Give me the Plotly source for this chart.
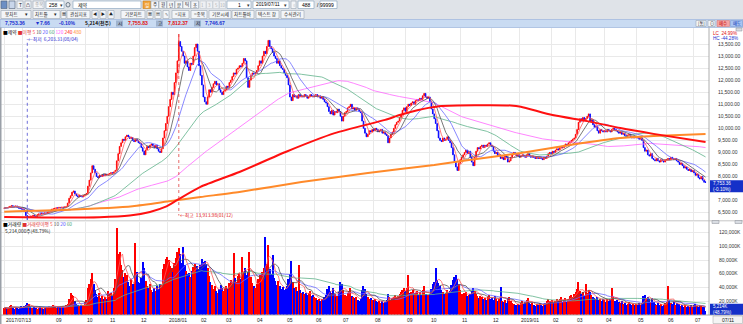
import numpy as np
import pandas as pd
import plotly.graph_objects as go

W, H = 743, 324
KR = "Noto Sans CJK KR"
NUM = "Liberation Sans"

# ---------------- data ----------------
holidays = ["2017-08-15", "2017-10-02", "2017-10-03", "2017-10-04", "2017-10-05", "2017-10-06",
            "2017-10-09", "2017-12-25", "2017-12-29", "2018-01-01", "2018-02-15", "2018-02-16",
            "2018-03-01", "2018-05-01", "2018-05-07", "2018-05-22", "2018-06-06", "2018-06-13",
            "2018-08-15", "2018-09-24", "2018-09-25", "2018-09-26", "2018-10-03", "2018-10-09",
            "2018-12-25", "2018-12-31", "2019-01-01", "2019-02-04", "2019-02-05", "2019-02-06",
            "2019-03-01", "2019-05-01", "2019-05-06", "2019-06-06"]

closes = [
    # 2017-07 (from 13th)
    6690, 6710, 6700, 6730, 6760, 6790, 6770, 6750, 6780, 6720, 6690, 6670, 6650,
    # 2017-08
    6640, 6560, 6380, 6300, 6330, 6310, 6350, 6390, 6360, 6340, 6420, 6450, 6440, 6470, 6460,
    6490, 6480, 6510, 6540, 6600, 6640, 6660,
    # 2017-09
    6680, 6700, 6690, 6720, 6700, 6730, 6710, 6740, 6760, 6900, 7100, 7200, 7350, 7400, 7280,
    7200, 7160, 7220, 7180, 7150, 7210,
    # 2017-10
    7250, 7300, 7600, 7850, 8150, 8450, 8300, 8150, 8000, 7950, 8050, 8000, 8080, 8030, 8100, 8060,
    # 2017-11
    8100, 8120, 8160, 8140, 8190, 8260, 8650, 8950, 9250, 9400, 9550, 9500, 9650, 9720, 9650,
    9580, 9620, 9500, 9450, 9550, 9480, 9400,
    # 2017-12
    9380, 9200, 9050, 8900, 9100, 9250, 9200, 9300, 9350, 9280, 9200, 9300, 9150, 9050, 9000,
    9150, 9600, 9900, 10200,
    # 2018-01
    10500, 10900, 11200, 11500, 11400, 11900, 12300, 12800, 13600, 13400, 13200, 13000, 12700,
    12800, 12550, 12400, 12700, 12650, 13000, 13350, 13500, 13200,
    # 2018-02
    12600, 12200, 11800, 11300, 11100, 11000, 11300, 11600, 11500, 11700, 11850, 11950, 11800,
    11850, 11600, 11500, 11400, 11550,
    # 2018-03
    11600, 11750, 11700, 11900, 12000, 12150, 12300, 12250, 12450, 12500, 12600, 12550, 12700,
    12900, 12800, 12100, 11700, 12000, 12200, 12300, 12250,
    # 2018-04
    12300, 12400, 12600, 12800, 12700, 13000, 13200, 13100, 13400, 13650, 13400, 13300, 13150,
    13000, 12900, 12700, 12800, 12600, 12500, 12450, 12300,
    # 2018-05
    12200, 12100, 11800, 11300, 11150, 11400, 11300, 11350, 11250, 11400, 11300, 11350, 11300,
    11400, 11350, 11250, 11300, 11400, 11350, 11300,
    # 2018-06
    11350, 11400, 11300, 11350, 11250, 11300, 11200, 11100, 11050, 10900, 10700, 10600, 10750,
    10550, 10700, 10650, 10800, 10700, 10500,
    # 2018-07
    10300, 10500, 10650, 10700, 10850, 10900, 11000, 10800, 10850, 10750, 10850, 10800, 10700,
    10650, 10300, 10000, 9800, 9650, 9750, 9900, 9850, 9950,
    # 2018-08
    9900, 10000, 9950, 9850, 9900, 9950, 9800, 9850, 9750, 9700, 9400, 9600, 9750, 9850, 10000,
    10150, 10250, 10300, 10450, 10550, 10750, 10850,
    # 2018-09
    10700, 10900, 11000, 10950, 11050, 11100, 11000, 11150, 11200, 11150, 11250, 11200, 11350,
    11450, 11300, 11250, 11300,
    # 2018-10
    11100, 10800, 10600, 10400, 10200, 9900, 9600, 9500, 9450, 9600, 9500, 9550, 9650, 9500,
    9400, 9200, 8900, 8600, 8400, 8250, 8550,
    # 2018-11
    8700, 8800, 8900, 9000, 9100, 8950, 9050, 8800, 8600, 8450, 8800, 9050, 9200, 9150, 9250,
    9300, 9200, 9300, 9250, 9350, 9400, 9300,
    # 2018-12
    9250, 9050, 8950, 9000, 8850, 8900, 8750, 8800, 8700, 8850, 8800, 8600, 8650, 8800, 8900,
    9000, 8950, 8850, 8900,
    # 2019-01
    8800, 8850, 8900, 8850, 8800, 8900, 8950, 8850, 8800, 8850, 8800, 8750, 8800, 8750, 8800,
    8750, 8700, 8800, 8750, 8850, 8950, 9000,
    # 2019-02
    8950, 9050, 9000, 9100, 9150, 9100, 9200, 9250, 9200, 9300, 9350, 9300, 9400, 9450, 9500,
    9550, 9600,
    # 2019-03
    9750, 9950, 10250, 10400, 10300, 10450, 10350, 10400, 10500, 10600, 10300, 10350, 10150,
    10050, 10100, 9900, 9800, 9950, 9900, 9850,
    # 2019-04
    9900, 9850, 9950, 9900, 9850, 9950, 10000, 9950, 9900, 9850, 9800, 9850, 9750, 9800, 9700,
    9650, 9700, 9750, 9650, 9600, 9650, 9600,
    # 2019-05
    9650, 9600, 9550, 9600, 9500, 9200, 9050, 9100, 8900, 8850, 8950, 8750, 8700, 8650, 8750,
    8650, 8600, 8700, 8650, 8600, 8700,
    # 2019-06
    8700, 8750, 8700, 8800, 8750, 8700, 8750, 8650, 8600, 8500, 8550, 8450, 8350, 8400, 8300,
    8250, 8300, 8200, 8250,
    # 2019-07
    8150, 8050, 8100, 7950, 7900, 8000, 7850, 7761.02, 7753.36,
]

volumes = [  # thousand shares
    # 2017-07
    9800, 11200, 8600, 9400, 12800, 14600, 10200, 8900, 11800, 9300, 8100, 10400, 12300,
    # 2017-08
    10900, 12600, 14800, 17700, 15200, 11400, 9800, 10300, 12100, 9200, 8700, 10500, 11900,
    9600, 8800, 10100, 9400, 11300, 12800, 10600, 13400, 14200,
    # 2017-09
    11800, 10400, 12600, 9900, 11100, 10700, 12900, 11500, 13800, 15400, 22600, 31800, 28400,
    26900, 19800, 16200, 14100, 12700, 13900, 12100, 14600,
    # 2017-10
    18500, 21400, 38600, 45200, 52800, 61400, 44300, 35700, 29800, 26400, 31200, 24800, 27600,
    22900, 25300, 23100,
    # 2017-11
    34200, 29800, 31600, 27400, 38900, 52600, 126800, 88400, 91200, 72500, 64800, 55300, 61700,
    58400, 47900, 42600, 51800, 44300, 39700, 104600, 62400, 48200,
    # 2017-12
    46800, 53200, 77400, 68100, 49500, 41300, 38600, 44900, 36200, 33800, 39400, 35100, 41700,
    37200, 45600, 42800, 66300, 74900, 81500,
    # 2018-01
    84200, 79600, 71300, 68800, 62400, 75900, 82300, 91700, 97400, 88600, 76200, 99300, 72800,
    64500, 58900, 61200, 55700, 63800, 69400, 74100, 67300, 71800,
    # 2018-02
    66800, 72400, 81300, 76900, 79200, 74600, 68300, 57100, 48400, 42900, 38200, 41700, 34800,
    32300, 37600, 43900, 39100, 35400,
    # 2018-03
    38600, 42300, 36900, 45800, 51200, 48400, 89700, 53500, 47200, 56800, 61400, 52900, 84600,
    63200, 67800, 58300, 62600, 91800, 54700, 46900, 42100,
    # 2018-04
    39800, 45300, 51900, 57400, 48200, 62800, 68600, 113900, 74700, 101800, 66400, 59200, 87600,
    53100, 48700, 44200, 49800, 41600, 37300, 39900, 35800,
    # 2018-05
    37200, 42600, 51800, 59400, 77900, 48300, 38700, 41200, 34900, 72600, 36100, 31800, 33700,
    29600, 32300, 28400, 31900, 34600, 27800, 29200,
    # 2018-06
    26400, 24100, 21800, 23600, 19700, 22400, 20900, 25200, 28800, 37600, 42300, 34700, 31200,
    38900, 29600, 26100, 27800, 32600, 48400,
    # 2018-07
    44800, 36300, 29400, 26800, 31200, 34700, 38900, 27600, 25200, 23900, 26400, 21800, 20600,
    23200, 35800, 42400, 37100, 29800, 25600, 22900, 24700, 21200,
    # 2018-08
    21800, 23600, 19400, 18100, 20700, 17300, 19900, 16600, 18800, 21400, 30700, 25200, 22100,
    23800, 26600, 28900, 25400, 27700, 30200, 33600, 36300, 38800,
    # 2018-09
    34100, 39600, 57400, 31700, 33200, 36800, 28900, 31400, 34700, 29300, 32800, 28200, 35900,
    41600, 30500, 27100, 29200,
    # 2018-10
    30900, 38200, 44700, 47900, 67800, 51300, 46100, 41600, 36200, 33800, 30700, 32300, 35600,
    31200, 34700, 43400, 50900, 55200, 58700, 51800, 44300,
    # 2018-11
    36100, 30800, 28200, 31600, 33800, 26700, 28200, 30900, 34300, 39700, 35200, 29600, 26800,
    24200, 27900, 25600, 22800, 24100, 21900, 26400, 28800, 23700,
    # 2018-12
    24600, 21200, 26800, 22700, 19800, 23400, 41100, 20600, 18700, 21900, 17600, 23200, 25700,
    19400, 17100, 15800, 14900, 13600, 16200,
    # 2019-01
    14800, 17300, 19600, 16100, 18400, 21700, 23900, 17800, 15200, 16900, 14300, 12800, 15600,
    13900, 16700, 14100, 12600, 15900, 17300, 19800, 22400, 20600,
    # 2019-02
    18300, 21600, 17200, 19800, 23400, 20100, 22800, 25600, 19300, 21200, 24700, 18900, 23100,
    26800, 28400, 25200, 29700,
    # 2019-03
    32600, 37900, 47800, 34300, 29600, 33200, 27800, 45600, 31300, 35800, 33900, 28200, 26400,
    24700, 23100, 25800, 21600, 22900, 20400, 23700,
    # 2019-04
    21200, 18900, 23600, 20100, 22700, 39800, 25400, 19700, 17600, 20800, 18300, 16900, 19400,
    15800, 17300, 14600, 16100, 18800, 15200, 13700, 16400, 14900,
    # 2019-05
    15800, 14300, 16700, 13900, 17800, 27600, 29200, 24900, 26400, 22700, 19200, 23800, 18600,
    16400, 14900, 17300, 13800, 15200, 12600, 14100, 16900,
    # 2019-06
    18400, 41800, 21200, 17600, 15300, 18900, 14700, 16800, 13900, 15400, 12800, 14600, 11700,
    13800, 10900, 12400, 11800, 13600, 10900,
    # 2019-07
    13700, 15400, 12200, 11900, 14300, 12600, 11800, 10690, 5214,
]

first_open = 6680
last_ohl = (7755.83, 7812.37, 7746.67)
high_mark = ("2018-01-12", 13913.98)
low_mark = ("2017-08-04", 6203.31)

ma240_dates = ["2017-07-13", "2017-08-22", "2017-10-24", "2017-11-22", "2017-12-12", "2017-12-28",
               "2018-01-11", "2018-02-02", "2018-03-16", "2018-05-02", "2018-06-25", "2018-08-13",
               "2018-08-28", "2018-09-14", "2018-09-28", "2018-10-15", "2018-11-15", "2018-12-20",
               "2019-01-03", "2019-02-07", "2019-03-14", "2019-04-16", "2019-05-21", "2019-07-11"]
ma240_vals = [6320, 6300, 6310, 6380, 6530, 6750, 7030, 7570, 8190, 9020, 9800, 10350,
              10550, 10760, 10850, 10930, 10960, 10950, 10900, 10550, 10300, 10010, 9770, 9430]
ma480_dates = ["2017-07-13", "2017-09-14", "2017-11-24", "2018-01-02", "2018-02-02", "2018-03-16",
               "2018-05-18", "2018-07-26", "2018-10-05", "2018-11-09", "2019-01-03", "2019-02-25",
               "2019-04-16", "2019-05-21", "2019-07-11"]
ma480_vals = [6540, 6620, 6770, 6960, 7150, 7360, 7770, 8150, 8480, 8690, 8980, 9310,
              9600, 9680, 9770]

price_ticks = [6500, 7000, 7500, 8000, 8500, 9000, 9500, 10000, 10500, 11000, 11500, 12000,
               12500, 13000, 13500]
vol_ticks = [20000, 40000, 60000, 80000, 100000, 120000]

# ---------------- derived ----------------
hol = set(holidays)
dates = [d for d in pd.bdate_range("2017-07-13", "2019-07-11") if d.strftime("%Y-%m-%d") not in hol]
N = len(dates)
assert len(closes) == N, (len(closes), N)
assert len(volumes) == N, (len(volumes), N)
dkey = {d.strftime("%Y-%m-%d"): i for i, d in enumerate(dates)}
idx = np.arange(N)

opens = [first_open] + closes[:-1]
opens[-1] = last_ohl[0]
highs = [max(o, c) for o, c in zip(opens, closes)]
lows = [min(o, c) for o, c in zip(opens, closes)]
highs[-1], lows[-1] = last_ohl[1], last_ohl[2]
hi_i = dkey[high_mark[0]]
lo_i = dkey[low_mark[0]]
highs[hi_i] = high_mark[1]
lows[lo_i] = low_mark[1]

UP, DN = "#ff0000", "#0000ff"
vcolors = [UP if c >= o else DN for o, c in zip(opens, closes)]

# layout geometry (pixels)
X_L, X_R = 0.0, 709.0
P_TOP, P_BOT = 28.0, 220.0
V_TOP, V_BOT = 222.0, 314.7
P_RANGE = [6196, 14164]
V_RANGE = [0, 135700]
X_RANGE = [-2.91, 488.4]
last_close = closes[-1]


def P(x):
    return x / W


def Q(y):
    return 1 - y / H


def px_to_price(py):
    return P_RANGE[1] - (py - P_TOP) * (P_RANGE[1] - P_RANGE[0]) / (P_BOT - P_TOP)


def price_to_px(v):
    return P_TOP + (P_RANGE[1] - v) * (P_BOT - P_TOP) / (P_RANGE[1] - P_RANGE[0])


fig = go.Figure()

fig.add_trace(go.Candlestick(
    x=idx, open=opens, high=highs, low=lows, close=closes,
    increasing=dict(line=dict(color=UP, width=0.8), fillcolor=UP),
    decreasing=dict(line=dict(color=DN, width=0.8), fillcolor=DN),
    whiskerwidth=0, xaxis="x", yaxis="y", hoverinfo="skip", showlegend=False))

cs = pd.Series(closes, dtype=float)
for n, col in [(120, "#ff66ff"), (60, "#5fb38a"), (20, "#6a6aff"), (10, "#555555"), (5, "#ff5a5a")]:
    fig.add_trace(go.Scatter(x=idx, y=cs.rolling(n, min_periods=1).mean(), mode="lines",
                             line=dict(color=col, width=0.8), xaxis="x", yaxis="y",
                             hoverinfo="skip", showlegend=False))
fig.add_trace(go.Scatter(x=[dkey[d] for d in ma480_dates], y=ma480_vals, mode="lines",
                         line=dict(color="#ff8a2a", width=2, shape="spline", smoothing=0.6),
                         xaxis="x", yaxis="y", hoverinfo="skip", showlegend=False))
fig.add_trace(go.Scatter(x=[dkey[d] for d in ma240_dates], y=ma240_vals, mode="lines",
                         line=dict(color="#ff1010", width=2, shape="spline", smoothing=0.6),
                         xaxis="x", yaxis="y", hoverinfo="skip", showlegend=False))

fig.add_trace(go.Bar(x=idx, y=volumes, marker=dict(color=vcolors, line=dict(width=0)),
                     width=0.8, xaxis="x2", yaxis="y2", hoverinfo="skip", showlegend=False))
vs = pd.Series(volumes, dtype=float)
for n, col in [(60, "#5fb38a"), (20, "#6a6aff"), (10, "#555555"), (5, "#ff5a5a")]:
    fig.add_trace(go.Scatter(x=idx, y=vs.rolling(n, min_periods=1).mean(), mode="lines",
                             line=dict(color=col, width=0.8), xaxis="x2", yaxis="y2",
                             hoverinfo="skip", showlegend=False))

# month starts
month_idx, month_lab = [], []
prev = None
for i, d in enumerate(dates):
    key = (d.year, d.month)
    if key != prev:
        month_idx.append(i)
        if i == 0:
            month_lab.append(d.strftime("%Y/%m/%d"))
        elif d.month == 1:
            month_lab.append(d.strftime("%Y/%m"))
        else:
            month_lab.append(d.strftime("%m"))
        prev = key

# price tick texts: the label hidden behind the current-price box is left blank
box_px = price_to_px(last_close)
price_text = [("" if abs(price_to_px(v) - (box_px + 3)) < 6 else f"{v:,.2f}") for v in price_ticks]

GRID = "#e9e9e9"
axis_common = dict(range=X_RANGE, domain=[P(X_L), P(X_R)], tickvals=month_idx, showticklabels=False,
                   showgrid=True, gridcolor=GRID, gridwidth=1, zeroline=False, showline=False,
                   ticks="", fixedrange=True)
fig.update_layout(
    width=W, height=H, margin=dict(l=0, r=0, t=0, b=0, autoexpand=False),
    paper_bgcolor="white", plot_bgcolor="white", showlegend=False, bargap=0,
    xaxis=dict(anchor="y", rangeslider=dict(visible=False), **axis_common),
    xaxis2=dict(anchor="y2", matches="x", **axis_common),
    yaxis=dict(domain=[Q(P_BOT), Q(P_TOP)], range=P_RANGE, side="right", anchor="x",
               tickvals=price_ticks, ticktext=price_text,
               tickfont=dict(size=5, family=NUM, color="#333333"), ticks="",
               ticklabelstandoff=8, showgrid=True, gridcolor=GRID, zeroline=False,
               showline=False, fixedrange=True),
    yaxis2=dict(domain=[Q(V_BOT), Q(V_TOP)], range=V_RANGE, side="right", anchor="x2",
                tickvals=vol_ticks, ticktext=[f"{v:,}K" for v in vol_ticks],
                tickfont=dict(size=5, family=NUM, color="#333333"), ticks="",
                ticklabelstandoff=9, showgrid=True, gridcolor=GRID, zeroline=False,
                showline=False, fixedrange=True),
)


def rect(x0, y0, x1, y1, fill, line=None, lw=0.6):
    fig.add_shape(type="rect", xref="paper", yref="paper", x0=P(x0), x1=P(x1), y0=Q(y1), y1=Q(y0),
                  fillcolor=fill, line=dict(color=line if line else fill, width=lw if line else 0),
                  layer="above")


def hline(x0, x1, y, color, w=1):
    fig.add_shape(type="line", xref="paper", yref="paper", x0=P(x0), x1=P(x1), y0=Q(y), y1=Q(y),
                  line=dict(color=color, width=w), layer="above")


def vline(x, y0, y1, color, w=1):
    fig.add_shape(type="line", xref="paper", yref="paper", x0=P(x), x1=P(x), y0=Q(y0), y1=Q(y1),
                  line=dict(color=color, width=w), layer="above")


def text(x, y, s, color="#000000", size=5, anchor="left", family=KR):
    fig.add_annotation(xref="paper", yref="paper", x=P(x), y=Q(y), text=s, showarrow=False,
                       xanchor=anchor, yanchor="middle", borderpad=0,
                       font=dict(size=size, color=color, family=family))


def button(x0, x1, y0, y1, label, color="#222222", fill="#f3f5f8", border="#9aa6b4", size=5):
    rect(x0, y0, x1, y1, fill, border, 0.6)
    text((x0 + x1) / 2, (y0 + y1) / 2, label, color, size, "center")


# ---------------- header ----------------
rect(0, 0, W, 19.5, "#dfe3e8")
# row 1
rect(1, 1, 7, 8.5, "#6d8fc4", "#50627a")
rect(9, 1, 15, 8.5, "#c9d6ea", "#50627a")
button(17, 23, 1, 8.5, "T", size=5)
button(25, 31, 1, 8.5, "凸", size=4)
button(33, 44, 1, 8.5, "종목", color="#a0a0a0", size=4.6)
rect(46, 1, 64, 8.5, "white", "#7f9db9")
text(48, 4.8, "258", "#000", 5, family=NUM)
text(61.5, 4.8, "▾", "#333", 4.6, "center")
fig.add_shape(type="circle", xref="paper", yref="paper", x0=P(66), x1=P(70), y0=Q(7), y1=Q(2.5),
              line=dict(color="#445566", width=0.7))
rect(73, 1, 141, 8.5, "white", "#7f9db9")
text(77, 4.8, "제약", "#000", 5)
button(143, 150.5, 1, 8.5, "일", color="white", fill="#f2a43a", border="#c77d18", size=4.6)
for k, lab in enumerate(["주", "월", "년", "분", "틱", "초"]):
    button(151 + k * 8, 158.5 + k * 8, 1, 8.5, lab, size=4.6)
for k, lab in enumerate(["1", "3", "5", "10"]):
    button(200 + k * 6.5, 206 + k * 6.5, 1, 8.5, lab, color="#b0b0b0", fill="#eef0f3",
           border="#c4cad2", size=4.4)
rect(227, 1, 251, 8.5, "white", "#7f9db9")
text(240, 4.8, "1", "#000", 5, "center", NUM)
text(248, 4.8, "▾", "#333", 4.6, "center")
rect(253, 1, 289, 8.5, "white", "#7f9db9")
text(255, 4.8, "2019/07/11", "#000", 4.8, family=NUM)
text(285.5, 4.8, "▾", "#333", 4.6, "center")
button(291, 296, 1, 8.5, "▫", color="#888", size=4.4)
rect(298, 1, 314, 8.5, "white", "#7f9db9")
text(312, 4.8, "488", "#000", 5, "right", NUM)
text(317.5, 4.8, "/", "#000", 5, "center", NUM)
rect(320, 1, 337, 8.5, "white", "#7f9db9")
text(335, 4.8, "99999", "#000", 5, "right", NUM)
# row 2
button(1, 31, 10.5, 18.5, "봉차트       ▾", size=4.6)
button(33, 60, 10.5, 18.5, "차트툴      ▾", size=4.6)
button(61, 66, 10.5, 18.5, "▦", size=4)
button(67, 90, 10.5, 18.5, "관심지표", size=4.6)
button(92, 98, 10.5, 18.5, "◀", size=4)
button(100, 106, 10.5, 18.5, "▶", size=4)
button(108, 114, 10.5, 18.5, "▲", size=4)
button(121, 145, 10.5, 18.5, "기본차트", size=4.6)
button(147, 153, 10.5, 18.5, "▦", size=4)
button(155, 161, 10.5, 18.5, "▤", size=4)
button(163, 169, 10.5, 18.5, "✎", size=4)
button(172, 189, 10.5, 18.5, "=지표", size=4.6)
button(191, 207, 10.5, 18.5, "=종목", size=4.6)
button(209, 231, 10.5, 18.5, "기본시세", size=4.6)
button(232, 254, 10.5, 18.5, "차트툴바", size=4.6)
button(256, 279, 10.5, 18.5, "텍스트 창", size=4.6)
button(281, 304, 10.5, 18.5, "수식관리", size=4.6)
# row 3 (quote bar)
rect(0, 19.5, W, 27.5, "#c9dbf2", "#8eaad6", 0.6)
text(4, 23.5, "<b>7,753.36</b>", "#1a2fd0", 5.1, family=NUM)
text(34, 23.5, "<b>▼7.66</b>", "#1a2fd0", 5.1, family=NUM)
text(58, 23.5, "<b>-0.10%</b>", "#1a2fd0", 5.1, family=NUM)
text(84, 23.5, "<b>5,214(천주)</b>", "#111111", 4.9)
rect(116, 20.5, 123, 26.5, "#9fb3cf")
text(119.5, 23.5, "시", "#111", 4.6, "center")
text(127, 23.5, "<b>7,755.83</b>", "#e01010", 5.1, family=NUM)
rect(156, 20.5, 163, 26.5, "#9fb3cf")
text(159.5, 23.5, "고", "#111", 4.6, "center")
text(167, 23.5, "<b>7,812.37</b>", "#e01010", 5.1, family=NUM)
rect(194, 20.5, 201, 26.5, "#9fb3cf")
text(197.5, 23.5, "저", "#111", 4.6, "center")
text(204, 23.5, "<b>7,746.67</b>", "#1a2fd0", 5.1, family=NUM)
button(696, 706, 20.5, 26.5, "[통]", size=4.2)
button(708, 715, 20.5, 26.5, "⊙", size=4.2)
button(717, 729.5, 20.5, 26.5, "매수", color="#c00000", fill="#f5a3a3", border="#d47a7a", size=4.4)
button(730.5, 742.5, 20.5, 26.5, "매도", color="#0030b0", fill="#a8c4f2", border="#7a9ad4", size=4.4)

# ---------------- chart frame ----------------
rect(0, 27.5, 1.5, 324, "#9aa0a8")
vline(X_R, 27.5, 315, "#9a9a9a", 0.8)
hline(0, W, 220.8, "#b8b8b8", 0.8)
hline(0, W, 315, "#9a9a9a", 0.8)
rect(736, 28, 742, 31.0, "#d8dce2", "#8a8f96", 0.5)
rect(712, 220.5, 719, 223.5, "#d8dce2", "#8a8f96", 0.5)
rect(735, 220.5, 742, 223.5, "#d8dce2", "#8a8f96", 0.5)

# price legend
text(2, 31.8,
     '<span style="color:#000">■</span>제약 <span style="color:#e03030">■이평</span> '
     '<span style="color:#ff5a5a">5</span> <span style="color:#555">10</span> '
     '<span style="color:#5050ff">20</span> <span style="color:#4aa676">60</span> '
     '<span style="color:#ff55ff">120</span> <span style="color:#ff2020">240</span> '
     '<span style="color:#ff8a2a">480</span>', "#000", 4.8)
text(712, 33.0, "LC  24.99%", "#e01010", 4.6, family=NUM)
text(712, 38.4, "HC -44.28%", "#1a2fd0", 4.6, family=NUM)

# low / high markers
top_y = px_to_price(39.2)
fig.add_shape(type="line", xref="x", yref="y", x0=lo_i, x1=lo_i, y0=low_mark[1], y1=top_y,
              line=dict(color="#4a4ad0", width=0.8, dash="dot"))
fig.add_annotation(xref="x", yref="y", x=lo_i, y=top_y, text="←최저  6,203.31(08/04)", showarrow=False,
                   xanchor="left", yanchor="middle", borderpad=0,
                   font=dict(size=4.8, color="#2a2ad0", family=KR))
bot_y = px_to_price(215.5)
fig.add_shape(type="line", xref="x", yref="y", x0=hi_i, x1=hi_i, y0=high_mark[1], y1=bot_y,
              line=dict(color="#e04040", width=0.8, dash="dot"))
fig.add_annotation(xref="x", yref="y", x=hi_i, y=bot_y, text="←최고  13,913.98(01/12)", showarrow=False,
                   xanchor="left", yanchor="middle", borderpad=0,
                   font=dict(size=4.8, color="#e01010", family=KR))

# current price box
rect(710, box_px - 2.3, 743, box_px + 9.9, "#1530c8")
text(712, box_px + 0.8, "7,753.36", "white", 4.6, family=NUM)
text(712, box_px + 6.9, "(-0.10%)", "white", 4.6, family=NUM)

# volume legend
text(2, 224.4,
     '<span style="color:#000">■</span>거래량 <span style="color:#e03030">■거래량이평</span> '
     '<span style="color:#ff5a5a">5</span> <span style="color:#555">10</span> '
     '<span style="color:#5050ff">20</span> <span style="color:#4aa676">60</span>', "#000", 4.8)
text(4, 230.8, "5,214,000주(48.79%)", "#222222", 4.8)
rect(710, 303.8, 743, 314.8, "#1530c8")
text(712, 306.6, "5,214K", "white", 4.5, family=NUM)
text(712, 312.2, "(48.79%)", "white", 4.5, family=NUM)

# bottom date labels
last_end = -100
for i, lab in zip(month_idx, month_lab):
    x_px = X_L + (i - X_RANGE[0]) * (X_R - X_L) / (X_RANGE[1] - X_RANGE[0])
    start = max(x_px + 0.5, 2.5)
    width = len(lab) * 2.7
    if start < last_end + 3:
        continue
    text(start, 320, lab, "#222222", 5, family=NUM)
    last_end = start + width
rect(713, 316, 742.5, 323.5, "#f4f4f4", "#a0a0a0", 0.5)
text(727.5, 319.8, "07/11", "#222222", 5, "center", NUM)

fig.write_html("out.html")
